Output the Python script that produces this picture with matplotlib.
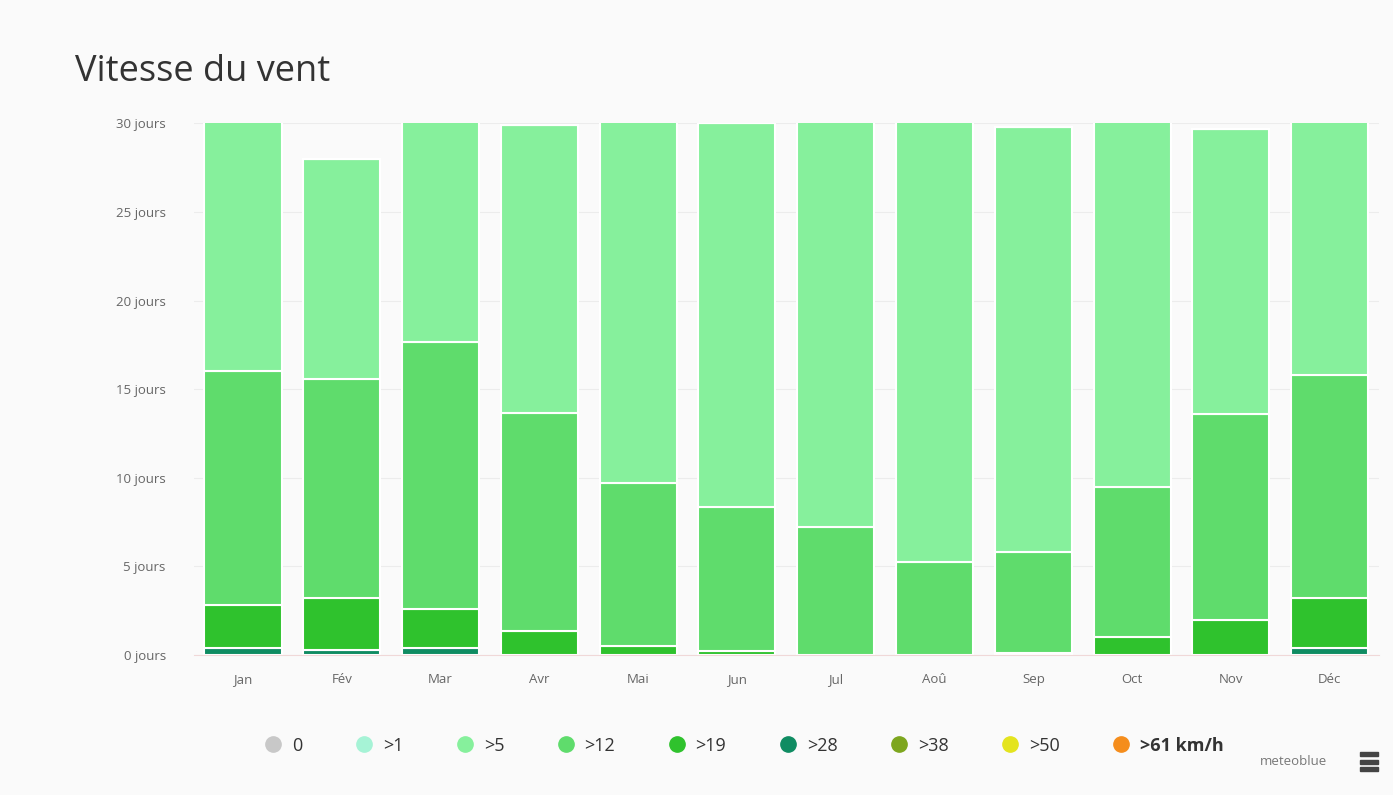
import matplotlib.pyplot as plt
from matplotlib.lines import Line2D
from matplotlib.patches import Rectangle

plt.rcParams['font.family'] = ['Open Sans', 'DejaVu Sans']

mois = ['Jan', 'Fév', 'Mar', 'Avr', 'Mai', 'Jun', 'Jul', 'Aoû', 'Sep', 'Oct', 'Nov', 'Déc']
classes = ['0', '>1', '>5', '>12', '>19', '>28', '>38', '>50', '>61 km/h']
couleurs = ['#c8c8c8', '#a6f3d6', '#86f09c', '#5fdc6c', '#2fc22d', '#0f8c62', '#7da61e', '#e4e41e', '#f58d1c']

# jours par classe de vent
j_0 = [0, 0, 0, 0, 0, 0, 0, 0, 0, 0, 0, 0]
j_1 = [0, 0, 0, 0, 0, 0, 0, 0, 0, 0, 0, 0]
j_5 = [15.0, 12.4, 13.35, 16.25, 21.3, 21.65, 23.8, 25.75, 24.0, 21.5, 16.1, 15.2]
j_12 = [13.2, 12.4, 15.05, 12.3, 9.2, 8.1, 7.2, 5.25, 5.7, 8.5, 11.6, 12.6]
j_19 = [2.4, 2.9, 2.2, 1.35, 0.5, 0.25, 0, 0, 0.1, 1.0, 2.0, 2.8]
j_28 = [0.4, 0.3, 0.4, 0, 0, 0, 0, 0, 0, 0, 0, 0.4]
j_38 = [0, 0, 0, 0, 0, 0, 0, 0, 0, 0, 0, 0]
j_50 = [0, 0, 0, 0, 0, 0, 0, 0, 0, 0, 0, 0]
j_61 = [0, 0, 0, 0, 0, 0, 0, 0, 0, 0, 0, 0]

series = [j_0, j_1, j_5, j_12, j_19, j_28, j_38, j_50, j_61]

fig = plt.figure(figsize=(13.93, 7.95), dpi=100)
fig.patch.set_facecolor('#fafafa')
ax = fig.add_axes([0.139, 0.176, 0.851, 0.669])
ax.set_facecolor('#fafafa')

x = list(range(len(mois)))
# empiler du plus fort (bas) au plus faible (haut)
bas = [0] * len(mois)
for serie, coul in zip(reversed(series), reversed(couleurs)):
    ax.bar(x, serie, bottom=bas, width=0.78, color=coul, edgecolor='white', linewidth=1.5)
    bas = [b + v for b, v in zip(bas, serie)]

ax.set_ylim(0, 30)
ax.set_xlim(-0.5, 11.5)
ax.set_yticks([0, 5, 10, 15, 20, 25, 30])
ax.set_yticklabels([f'{v} jours' for v in [0, 5, 10, 15, 20, 25, 30]])
ax.set_xticks(x)
ax.set_xticklabels(mois)
ax.tick_params(axis='both', length=0, labelsize=9.5, colors='#666666')
ax.tick_params(axis='y', pad=20)
ax.tick_params(axis='x', pad=13)
ax.grid(axis='y', color='#ececec', linewidth=0.8)
ax.set_axisbelow(True)
for s in ['left', 'right', 'top']:
    ax.spines[s].set_visible(False)
ax.spines['bottom'].set_color('#f0d8d8')

fig.text(0.054, 0.909, 'Vitesse du vent', fontsize=26, color='#333333', va='center')

poignees = [Line2D([], [], marker='o', linestyle='', markersize=11, color=c) for c in couleurs]
leg = fig.legend(poignees, classes, ncol=9, loc='center', bbox_to_anchor=(0.534, 0.062),
                 frameon=False, handletextpad=0.55, columnspacing=2.9, fontsize=13, handlelength=1.0)
for t in leg.get_texts():
    t.set_color('#333333')
leg.get_texts()[-1].set_fontweight('bold')

fig.text(0.953, 0.042, 'meteoblue', fontsize=9.5, color='#777777', ha='right', va='center')
for dy in [-0.009, 0, 0.009]:
    fig.add_artist(Rectangle((0.976, 0.042 + dy - 0.0025), 0.013, 0.005, transform=fig.transFigure,
                             color='#444444'))

plt.savefig('out.png', dpi=100, facecolor=fig.get_facecolor())
